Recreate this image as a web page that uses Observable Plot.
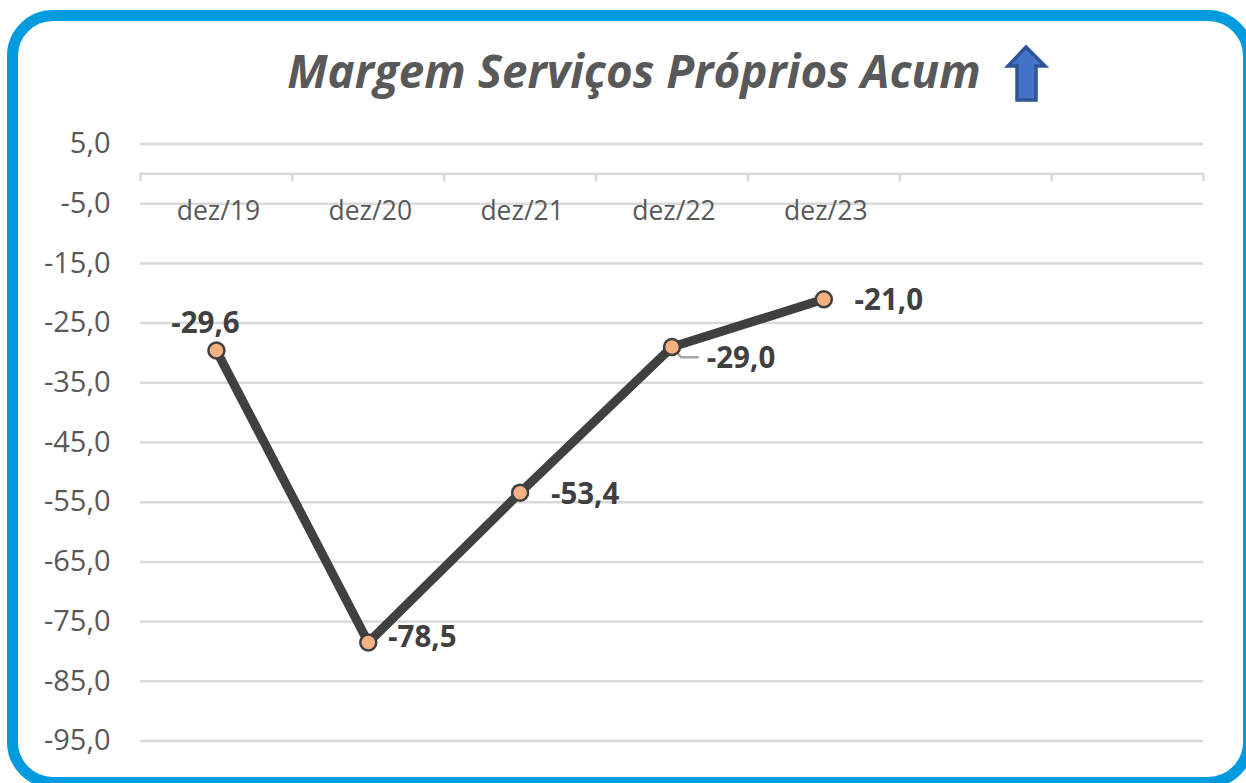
<!DOCTYPE html>
<html lang="pt">
<head>
<meta charset="utf-8">
<script src="https://cdn.jsdelivr.net/npm/d3@7"></script>
<script src="https://cdn.jsdelivr.net/npm/@observablehq/plot@0.6"></script>
<style>
  html, body { margin: 0; padding: 0; background: #fff; overflow: hidden; width: 1246px; height: 783px; }
  #frame { position: absolute; left: 7px; top: 10px; width: 1225px; height: 756px; border: 11px solid #009ADE; border-radius: 46px; }
  #title { position: absolute; left: 0; top: 40px; width: 1268px; margin: 0; text-align: center; font: italic 700 45.8px "Open Sans", sans-serif; line-height: 60px; color: #595959; white-space: nowrap; }
  #arrow { position: absolute; left: 1000px; top: 40px; }
  #chart { position: absolute; left: 0; top: 0; }
  #chart svg { background: transparent; }
</style>
</head>
<body>
<div id="frame"></div>
<div id="chart"></div>
<h1 id="title">Margem Serviços Próprios Acum</h1>
<svg id="arrow" width="54" height="68" viewBox="0 0 54 68"><polygon points="26,7 45,26 36,26 36,60 17,60 17,26 8,26" fill="#4472C4" stroke="#2F5597" stroke-width="3.5"/></svg>
<script>
const categories = ["dez/19", "dez/20", "dez/21", "dez/22", "dez/23"];
const values = [-29.6, -78.5, -53.4, -29.0, -21.0];
const yTicks = [5, -5, -15, -25, -35, -45, -55, -65, -75, -85, -95];
const slotEdges = [0, 1, 2, 3, 4, 5, 6, 7];
const leader = [[3.5, -29.0], [3.56, -30.7], [3.67, -30.7]];

const comma = (v) => v.toFixed(1).replace(".", ",");
const center = (i) => i + 0.5;
const rows = categories.map((c, i) => ({ c, x: center(i), y: values[i] }));
const font = '"Open Sans", sans-serif';

const label = (i, dx, dy) => Plot.text([rows[i]], {
  x: "x", y: "y", text: (d) => comma(d.y), dx, dy,
  fontSize: 29.5, fontWeight: 700, fill: "#404040", fontFamily: font
});

const chart = Plot.plot({
  width: 1246,
  height: 783,
  marginLeft: 140,
  marginRight: 43,
  marginTop: 143.5,
  marginBottom: 42.5,
  x: { domain: [0, 7], axis: null },
  y: { domain: [-95, 5], axis: null },
  style: { background: "transparent" },
  marks: [
    Plot.ruleY(yTicks, { stroke: "#D9D9D9", strokeWidth: 2.5 }),
    Plot.ruleY([0], { stroke: "#D9D9D9", strokeWidth: 2.5 }),
    Plot.ruleX(slotEdges, { y1: 0, y2: -1.3, stroke: "#D9D9D9", strokeWidth: 2.5 }),
    Plot.axisY({
      ticks: yTicks, tickSize: 0, tickPadding: 30, tickFormat: comma, label: null,
      fontSize: 29, fontFamily: font, fill: "#595959", marginLeft: 140
    }),
    Plot.text(rows, { x: "x", y: 0, text: "c", dx: 2, dy: 38, fontSize: 26.5, fontFamily: font, fill: "#595959" }),
    Plot.line(leader, { stroke: "#A6A6A6", strokeWidth: 2.5 }),
    Plot.line(rows, { x: "x", y: "y", stroke: "#404040", strokeWidth: 9, strokeLinejoin: "round" }),
    Plot.dot(rows, { x: "x", y: "y", r: 8, fill: "#F4B183", stroke: "#404040", strokeWidth: 2.5 }),
    label(0, -11, -27),
    label(1, 54, -5),
    label(2, 65, 2),
    label(3, 69, 12),
    label(4, 65, 1)
  ]
});
document.getElementById("chart").appendChild(chart);
</script>
</body>
</html>
